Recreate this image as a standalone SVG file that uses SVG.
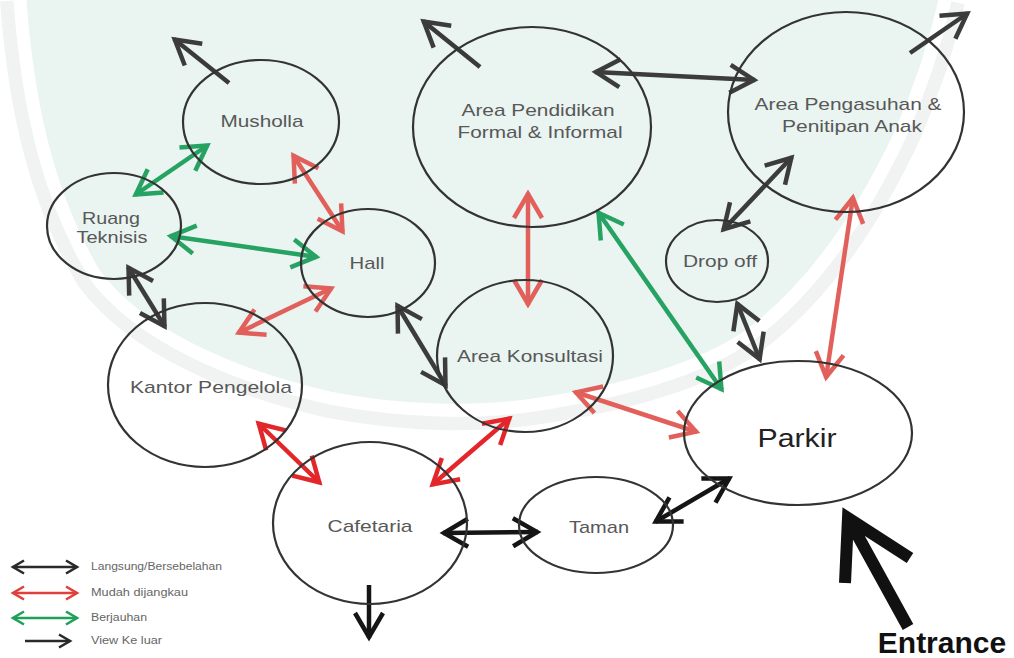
<svg xmlns="http://www.w3.org/2000/svg" width="1014" height="658" viewBox="0 0 1014 658">
<style>
.node{fill:none;stroke:#333;stroke-width:2.2}
.lbl{font-family:"Liberation Sans",Arial,sans-serif;font-size:17px;fill:#585858;text-anchor:middle}
.leg{font-family:"Liberation Sans",Arial,sans-serif;font-size:10px;fill:#666}
.dk{stroke:#3c3c3c;stroke-width:4.5;fill:none;marker-start:url(#mDk);marker-end:url(#mDk)}
.bk{stroke:#151515;stroke-width:4.5;fill:none;marker-start:url(#mBk);marker-end:url(#mBk)}
.rd{stroke:#e2605b;stroke-width:4.5;fill:none;marker-start:url(#mRd);marker-end:url(#mRd)}
.rd2{stroke:#e3262a;stroke-width:4.5;fill:none;marker-start:url(#mRd2);marker-end:url(#mRd2)}
.gr{stroke:#26a362;stroke-width:4.5;fill:none;marker-start:url(#mGr);marker-end:url(#mGr)}
.vo{stroke:#3a3a3a;stroke-width:4.5;fill:none;marker-end:url(#mDk)}
.vob{stroke:#151515;stroke-width:4.5;fill:none;marker-end:url(#mBk)}
</style>
<defs>
<marker id="mDk" viewBox="0 0 34 34" refX="28" refY="17" markerWidth="34" markerHeight="34" markerUnits="userSpaceOnUse" orient="auto-start-reverse" overflow="visible"><path d="M3,3 L27,17 L3,31" fill="none" stroke="#3c3c3c" stroke-width="4.5"/></marker>
<marker id="mBk" viewBox="0 0 34 34" refX="28" refY="17" markerWidth="34" markerHeight="34" markerUnits="userSpaceOnUse" orient="auto-start-reverse" overflow="visible"><path d="M3,3 L27,17 L3,31" fill="none" stroke="#151515" stroke-width="4.5"/></marker>
<marker id="mRd" viewBox="0 0 34 34" refX="28" refY="17" markerWidth="34" markerHeight="34" markerUnits="userSpaceOnUse" orient="auto-start-reverse" overflow="visible"><path d="M3,3 L27,17 L3,31" fill="none" stroke="#e2605b" stroke-width="4.5"/></marker>
<marker id="mRd2" viewBox="0 0 34 34" refX="28" refY="17" markerWidth="34" markerHeight="34" markerUnits="userSpaceOnUse" orient="auto-start-reverse" overflow="visible"><path d="M3,3 L27,17 L3,31" fill="none" stroke="#e3262a" stroke-width="4.5"/></marker>
<marker id="mGr" viewBox="0 0 34 34" refX="28" refY="17" markerWidth="34" markerHeight="34" markerUnits="userSpaceOnUse" orient="auto-start-reverse" overflow="visible"><path d="M3,3 L27,17 L3,31" fill="none" stroke="#26a362" stroke-width="4.5"/></marker>
<marker id="lDk" viewBox="0 0 16 16" refX="13" refY="8" markerWidth="16" markerHeight="16" markerUnits="userSpaceOnUse" orient="auto-start-reverse" overflow="visible"><path d="M2,1.5 L13,8 L2,14.5" fill="none" stroke="#2a2a2a" stroke-width="2.6"/></marker>
<marker id="lRd" viewBox="0 0 16 16" refX="13" refY="8" markerWidth="16" markerHeight="16" markerUnits="userSpaceOnUse" orient="auto-start-reverse" overflow="visible"><path d="M2,1.5 L13,8 L2,14.5" fill="none" stroke="#e0403c" stroke-width="2.6"/></marker>
<marker id="lGr" viewBox="0 0 16 16" refX="13" refY="8" markerWidth="16" markerHeight="16" markerUnits="userSpaceOnUse" orient="auto-start-reverse" overflow="visible"><path d="M2,1.5 L13,8 L2,14.5" fill="none" stroke="#1fa05a" stroke-width="2.6"/></marker>
</defs>

<rect width="1014" height="658" fill="#ffffff"/>
<g id="watermark">
<path d="M20,0 C28,110 50,200 95,275 C140,335 230,375 330,398 C400,412 480,414 540,404 C620,392 700,370 750,335 C810,290 860,220 900,135 C920,90 935,45 945,0" fill="none" stroke="#f1f3f2" stroke-width="40"/>
<path d="M20,0 C28,110 50,200 95,275 C140,335 230,375 330,398 C400,412 480,414 540,404 C620,392 700,370 750,335 C810,290 860,220 900,135 C920,90 935,45 945,0 Z" fill="#eaf4f1"/>
<path d="M20,0 C28,110 50,200 95,275 C140,335 230,375 330,398 C400,412 480,414 540,404 C620,392 700,370 750,335 C810,290 860,220 900,135 C920,90 935,45 945,0" fill="none" stroke="#ffffff" stroke-width="13"/>
</g>

<g id="connectors">
<line class="vo" x1="229" y1="83" x2="174" y2="39"/>
<line class="gr" x1="208" y1="145" x2="135" y2="195"/>
<line class="rd" x1="293" y1="155" x2="343" y2="232"/>
<line class="gr" x1="170" y1="236" x2="317" y2="257"/>
<line class="rd" x1="332" y1="288" x2="238" y2="333"/>
<line class="dk" x1="128" y1="267" x2="165" y2="327"/>
<line class="dk" x1="397" y1="305" x2="446" y2="386"/>
<line class="rd2" x1="258" y1="423" x2="320" y2="483"/>
<line class="rd2" x1="432" y1="485" x2="510" y2="418"/>
<line class="bk" x1="443" y1="533" x2="538" y2="532"/>
<line class="bk" x1="655" y1="522" x2="730" y2="478"/>
<line class="vob" x1="369" y1="585" x2="369" y2="638"/>
<line class="rd" x1="575" y1="392" x2="697" y2="432"/>
<line class="gr" x1="598" y1="212" x2="722" y2="390"/>
<line class="rd" x1="528" y1="193" x2="528" y2="305"/>
<line class="vo" x1="480" y1="67" x2="423" y2="21"/>
<line class="dk" x1="595" y1="72" x2="755" y2="80"/>
<line class="vo" x1="910" y1="53" x2="968" y2="13"/>
<line class="dk" x1="792" y1="157" x2="723" y2="230"/>
<line class="rd" x1="853" y1="197" x2="826" y2="378"/>
<line class="dk" x1="737" y1="303" x2="760" y2="360"/>
</g>

<g id="musholla"><ellipse class="node" cx="261" cy="122" rx="78" ry="62"/><text class="lbl" x="262" y="127" textLength="83" lengthAdjust="spacingAndGlyphs">Musholla</text></g>
<g id="ruang-teknisis"><ellipse class="node" cx="114" cy="226" rx="67" ry="53"/><text class="lbl" x="111" y="224" textLength="58" lengthAdjust="spacingAndGlyphs">Ruang</text><text class="lbl" x="112" y="243" textLength="71" lengthAdjust="spacingAndGlyphs">Teknisis</text></g>
<g id="hall"><ellipse class="node" cx="368" cy="263" rx="67" ry="54"/><text class="lbl" x="367" y="269" textLength="35" lengthAdjust="spacingAndGlyphs">Hall</text></g>
<g id="kantor-pengelola"><ellipse class="node" cx="205" cy="385" rx="97" ry="82"/><text class="lbl" x="211" y="393" textLength="162" lengthAdjust="spacingAndGlyphs">Kantor Pengelola</text></g>
<g id="area-pendidikan"><ellipse class="node" cx="532" cy="127" rx="119" ry="100"/><text class="lbl" x="538" y="116" textLength="153" lengthAdjust="spacingAndGlyphs">Area Pendidikan</text><text class="lbl" x="540" y="138" textLength="165" lengthAdjust="spacingAndGlyphs">Formal &amp; Informal</text></g>
<g id="area-pengasuhan"><ellipse class="node" cx="846" cy="112" rx="118" ry="100"/><text class="lbl" x="848" y="110" textLength="187" lengthAdjust="spacingAndGlyphs">Area Pengasuhan &amp;</text><text class="lbl" x="852" y="132" textLength="140" lengthAdjust="spacingAndGlyphs">Penitipan Anak</text></g>
<g id="drop-off"><ellipse class="node" cx="717" cy="261" rx="51" ry="41"/><text class="lbl" x="720" y="267" textLength="74" lengthAdjust="spacingAndGlyphs">Drop off</text></g>
<g id="area-konsultasi"><ellipse class="node" cx="525" cy="356" rx="88" ry="76"/><text class="lbl" x="530" y="362" textLength="146" lengthAdjust="spacingAndGlyphs">Area Konsultasi</text></g>
<g id="parkir"><ellipse class="node" cx="798" cy="433" rx="114" ry="72"/><text class="lbl" x="797" y="447" style="font-size:25px;fill:#222" textLength="79" lengthAdjust="spacingAndGlyphs">Parkir</text></g>
<g id="cafetaria"><ellipse class="node" cx="370" cy="523" rx="97" ry="81"/><text class="lbl" x="370" y="532" textLength="85" lengthAdjust="spacingAndGlyphs">Cafetaria</text></g>
<g id="taman"><ellipse class="node" cx="596" cy="525" rx="77" ry="48"/><text class="lbl" x="599" y="533" textLength="60" lengthAdjust="spacingAndGlyphs">Taman</text></g>

<g id="entrance">
<path d="M908,627 L848,518 M845,583 L848,518 L910,558" fill="none" stroke="#111" stroke-width="12" stroke-linejoin="miter"/>
<text x="942" y="653" style="font-family:'Liberation Sans',Arial,sans-serif;font-size:30px;font-weight:bold;fill:#111;text-anchor:middle">Entrance</text>
</g>

<g id="legend">
<line x1="13" y1="567" x2="77" y2="567" stroke="#2a2a2a" stroke-width="2.6" marker-start="url(#lDk)" marker-end="url(#lDk)"/>
<line x1="13" y1="593" x2="77" y2="593" stroke="#e0403c" stroke-width="2.6" marker-start="url(#lRd)" marker-end="url(#lRd)"/>
<line x1="13" y1="618" x2="77" y2="618" stroke="#1fa05a" stroke-width="2.6" marker-start="url(#lGr)" marker-end="url(#lGr)"/>
<line x1="25" y1="641" x2="70" y2="641" stroke="#2a2a2a" stroke-width="2.6" marker-end="url(#lDk)"/>
<text class="leg" x="91" y="570" textLength="131" lengthAdjust="spacingAndGlyphs">Langsung/Bersebelahan</text>
<text class="leg" x="91" y="596" textLength="97" lengthAdjust="spacingAndGlyphs">Mudah dijangkau</text>
<text class="leg" x="91" y="621" textLength="56" lengthAdjust="spacingAndGlyphs">Berjauhan</text>
<text class="leg" x="91" y="644" textLength="71" lengthAdjust="spacingAndGlyphs">View Ke luar</text>
</g>
</svg>
